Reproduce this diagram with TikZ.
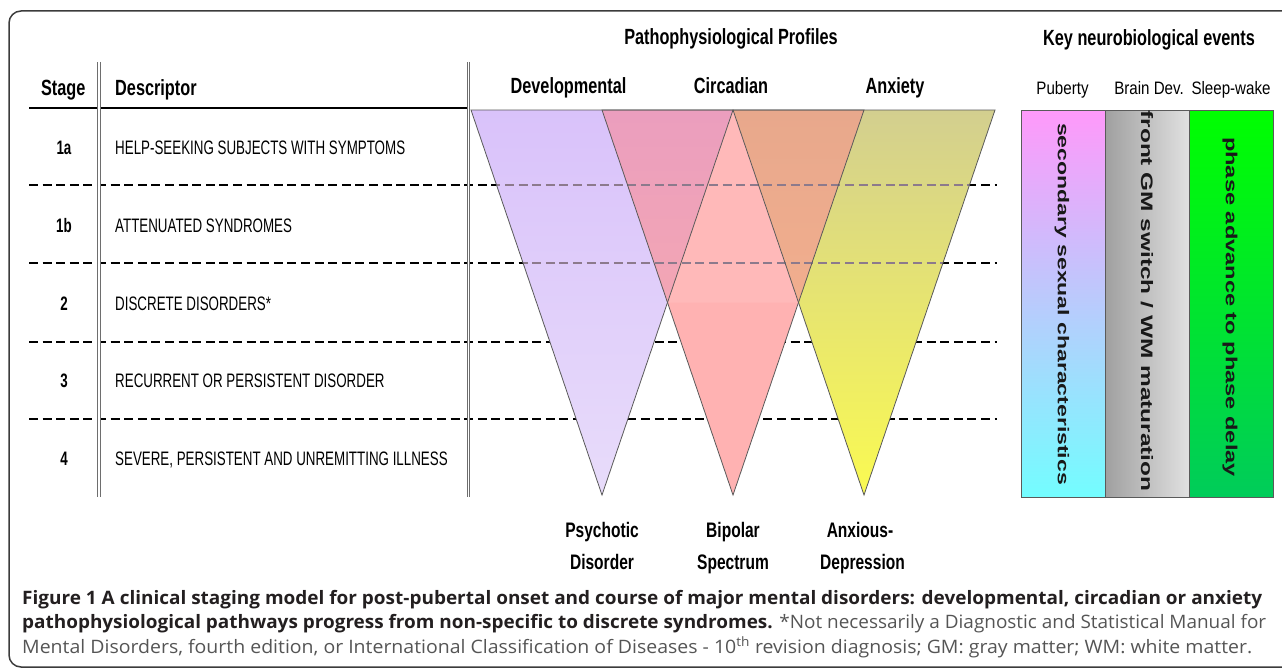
\documentclass[tikz,border=0pt]{standalone}
\usepackage{fontspec}
\usepackage{graphicx}
\setmainfont{Liberation Sans}
\newfontfamily\nbfont[FakeStretch=0.74]{Liberation Sans}
\newfontfamily\nrfont[FakeStretch=0.685]{Liberation Sans}
\newfontfamily\nmfont[FakeStretch=0.84]{Liberation Sans}
\newfontfamily\capfont{Open Sans}
\definecolor{framec}{RGB}{60,60,60}
\definecolor{dblc}{RGB}{110,110,110}
\definecolor{edgec}{RGB}{90,90,90}
\definecolor{faintd}{RGB}{140,122,140}
\definecolor{purA}{RGB}{217,194,250}
\definecolor{purB}{RGB}{205,178,248}
\definecolor{purC}{RGB}{232,220,250}
\definecolor{pinkc}{RGB}{255,178,178}
\definecolor{pinkl}{RGB}{255,185,185}
\definecolor{mauA}{RGB}{235,158,190}
\definecolor{mauB}{RGB}{243,166,180}
\definecolor{salA}{RGB}{232,168,140}
\definecolor{salB}{RGB}{241,174,142}
\definecolor{yelA}{RGB}{211,207,143}
\definecolor{yelB}{RGB}{222,222,70}
\definecolor{yelC}{RGB}{250,250,82}
\definecolor{pubA}{RGB}{255,153,250}
\definecolor{pubB}{RGB}{182,190,255}
\definecolor{pubC}{RGB}{115,253,255}
\definecolor{gryA}{RGB}{160,160,160}
\definecolor{gryB}{RGB}{225,225,225}
\definecolor{grnA}{RGB}{0,255,0}
\definecolor{grnB}{RGB}{0,204,90}
\definecolor{capdark}{RGB}{35,31,32}
\definecolor{capgray}{RGB}{85,85,85}
\tikzset{
  hdr/.style={font=\nbfont\bfseries\fontsize{22}{26}\selectfont, inner sep=0pt, anchor=base},
  rowtxt/.style={font=\nrfont\fontsize{19.5}{23}\selectfont, inner sep=0pt, anchor=base west},
  stagenum/.style={font=\nrfont\bfseries\fontsize{19.5}{23}\selectfont, inner sep=0pt, anchor=base},
  colhdr/.style={font=\nmfont\fontsize{18}{22}\selectfont, inner sep=0pt, anchor=base},
  outlbl/.style={font=\nbfont\bfseries\fontsize{21}{25}\selectfont, inner sep=0pt, anchor=base},
  vtxt/.style={rotate=-90, inner sep=0pt, text=black!90},
  dashline/.style={dash pattern=on 9pt off 4.6pt, line width=2.6pt},
  dbl/.style={double=white, double distance=1.6pt, line width=1pt, draw=dblc},
  triedge/.style={draw=edgec, line width=0.8pt, line join=miter},
  panel/.style={draw=edgec, line width=1pt},
  capnode/.style={inner sep=0pt, anchor=base west}
}
\begin{document}
\begin{tikzpicture}[x=1pt,y=-1pt]
\useasboundingbox (0,0) rectangle (1282,669);
\clip (0,0) rectangle (1282,669);
\fill[white] (0,0) rectangle (1282,669);
% frame
\draw[framec, line width=1.5pt, rounded corners=12pt] (9,11) rectangle (1320,667);

% table lines
\foreach \yy in {185,263,342,419} {\draw[dashline] (29,\yy) -- (997,\yy);}
\draw[line width=2.2pt] (29,108.3) -- (469,108.3);
\draw[dbl] (99,62) -- (99,497);
\draw[dbl] (468.5,62) -- (468.5,497);

% table text
\node[hdr] (stage) at (63.3,95.5) {Stage};
\node[hdr, anchor=base west] (descr) at (115,95.5) {Descriptor};
\node[stagenum] (s1a) at (64,154) {1a};
\node[stagenum] (s1b) at (64,232.5) {1b};
\node[stagenum] (s2) at (64,310) {2};
\node[stagenum] (s3) at (64,387.5) {3};
\node[stagenum] (s4) at (64,465) {4};
\node[rowtxt] (d1a) at (115,154) {HELP-SEEKING SUBJECTS WITH SYMPTOMS};
\node[rowtxt] (d1b) at (115,232.5) {ATTENUATED SYNDROMES};
\node[rowtxt] (d2) at (115,310) {DISCRETE DISORDERS*};
\node[rowtxt] (d3) at (115,387.5) {RECURRENT OR PERSISTENT DISORDER};
\node[rowtxt] (d4) at (115,465) {SEVERE, PERSISTENT AND UNREMITTING ILLNESS};

% triangles
\coordinate (P1) at (471,110); \coordinate (P2) at (733,110); \coordinate (Pa) at (602,495);
\coordinate (C1) at (602,110); \coordinate (C2) at (864,110); \coordinate (Ca) at (733,495);
\coordinate (A1) at (733,110); \coordinate (A2) at (995,110); \coordinate (Aa) at (864,495);
\coordinate (X1) at (667.5,302.5); \coordinate (X2) at (798.5,302.5);
\shade[top color=purA, middle color=purB, bottom color=purC] (P1) -- (P2) -- (Pa) -- cycle;
\fill[pinkc] (C1) -- (C2) -- (Ca) -- cycle;
\shade[top color=yelA, middle color=yelB, bottom color=yelC] (A1) -- (A2) -- (Aa) -- cycle;
\shade[top color=mauA, bottom color=mauB] (C1) -- (P2) -- (X1) -- cycle;
\shade[top color=salA, bottom color=salB] (A1) -- (C2) -- (X2) -- cycle;
\fill[pinkl] (A1) -- (X2) -- (X1) -- cycle;
% faint dashes seen through the upper part of the triangles
\begin{scope}
\clip (496.5,180) rectangle (969.5,190);
\draw[dashline, draw=faintd] (29,185) -- (997,185);
\end{scope}
\begin{scope}
\clip (523.1,258) rectangle (942.9,268);
\draw[dashline, draw=faintd] (29,263) -- (997,263);
\end{scope}
\draw[triedge] (P1) -- (P2) -- (Pa) -- cycle;
\draw[triedge] (C1) -- (C2) -- (Ca) -- cycle;
\draw[triedge] (A1) -- (A2) -- (Aa) -- cycle;

% profile labels
\node[hdr] (pp) at (731,45) {Pathophysiological Profiles};
\node[hdr] (dev) at (568.5,93.5) {Developmental};
\node[hdr] (circ) at (731,93.5) {Circadian};
\node[hdr] (anx) at (895,93.5) {Anxiety};
\node[outlbl] (psy1) at (602,537.7) {Psychotic};
\node[outlbl] (psy2) at (602,569.3) {Disorder};
\node[outlbl] (bip1) at (733,537.7) {Bipolar};
\node[outlbl] (bip2) at (733,569.3) {Spectrum};
\node[outlbl] (anx1) at (860,537.7) {Anxious-};
\node[outlbl] (anx2) at (862.5,569.3) {Depression};

% neurobiological panel
\node[hdr] (key) at (1149,45.5) {Key neurobiological events};
\node[colhdr] (pub) at (1062.5,95) {Puberty};
\node[colhdr] (brd) at (1149,95) {Brain Dev.};
\node[colhdr] (slw) at (1231,95) {Sleep-wake};
\shade[top color=pubA, middle color=pubB, bottom color=pubC] (1021,110) rectangle (1105.5,497);
\shade[left color=gryA, right color=gryB] (1105.5,110) rectangle (1189.3,497);
\shade[top color=grnA, bottom color=grnB] (1189.3,110) rectangle (1273.5,497);
\draw[panel] (1021,110) rectangle (1105.5,497);
\draw[panel] (1105.5,110) rectangle (1189.3,497);
\draw[panel] (1189.3,110) rectangle (1273.5,497);
\node[vtxt] (vpub) at (1062,304) {\scalebox{1}[0.68]{\bfseries\fontsize{23}{26}\selectfont secondary sexual characteristics}};
\node[vtxt] (vbrd) at (1147,301) {\scalebox{1}[0.68]{\bfseries\fontsize{24.4}{28}\selectfont front GM switch / WM maturation}};
\node[vtxt] (vslw) at (1230,307) {\scalebox{1}[0.68]{\bfseries\fontsize{23.6}{27}\selectfont phase advance to phase delay}};

% caption
\node[capnode] (cap1) at (22,604) {\resizebox{1240pt}{\height}{\capfont\fontsize{18.5}{22}\selectfont\bfseries\color{capdark}Figure 1 A clinical staging model for post-pubertal onset and course of major mental disorders: developmental, circadian or anxiety}};
\node[capnode] (cap2) at (22,628.5) {\resizebox{1244pt}{\height}{\capfont\fontsize{18.5}{22}\selectfont{\bfseries\color{capdark}pathophysiological pathways progress from non-specific to discrete syndromes.} {\color{capgray}*Not necessarily a Diagnostic and Statistical Manual for}}};
\node[capnode] (cap3) at (22,653) {\resizebox{1230pt}{\height}{\capfont\fontsize{18.5}{22}\selectfont\color{capgray}Mental Disorders, fourth edition, or International Classification of Diseases - 10\textsuperscript{th} revision diagnosis; GM: gray matter; WM: white matter.}};
\end{tikzpicture}
\end{document}
